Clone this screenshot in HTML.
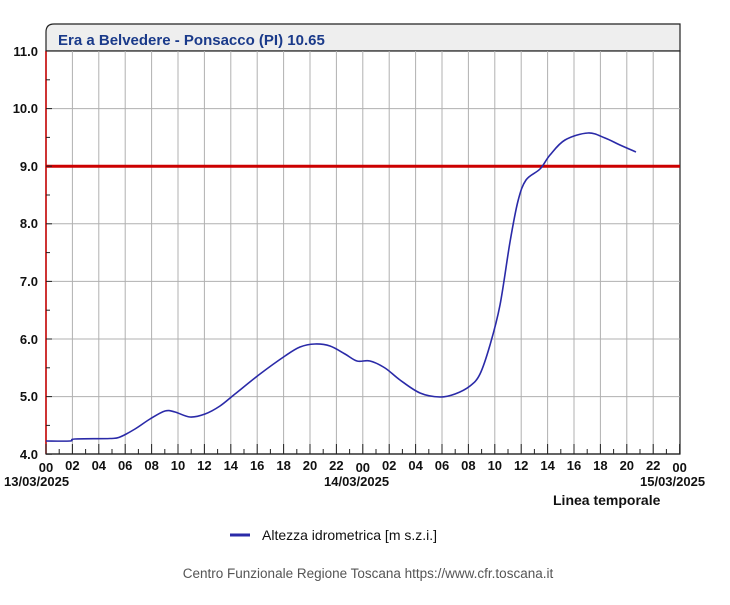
<!DOCTYPE html>
<html><head><meta charset="utf-8"><style>
body{margin:0;background:#fff;width:730px;height:600px;overflow:hidden}
svg text{font-family:"Liberation Sans",sans-serif}
</style></head><body>
<svg width="730" height="600" viewBox="0 0 730 600">
<path d="M46,51 V32 Q46,24 54,24 H680 V51 Z" fill="#eeeeee" stroke="#222" stroke-width="1.2"/>
<text x="58" y="45" font-size="15" font-weight="bold" fill="#1a3a8a">Era a Belvedere - Ponsacco (PI) 10.65</text>
<rect x="46" y="51" width="634" height="403" fill="#fff" stroke="#222" stroke-width="1.2"/>
<g stroke="#b0b0b0" stroke-width="1">
<line x1="46" x2="680" y1="108.6" y2="108.6"/><line x1="46" x2="680" y1="223.8" y2="223.8"/>
<line x1="46" x2="680" y1="281.4" y2="281.4"/><line x1="46" x2="680" y1="339" y2="339"/>
<line x1="46" x2="680" y1="396.6" y2="396.6"/>
</g>
<g id="v" stroke="#b0b0b0"></g>
<line x1="46" x2="680" y1="166.2" y2="166.2" stroke="#cc0000" stroke-width="3"/>
<line x1="46" x2="46" y1="51" y2="454" stroke="#cc0000" stroke-width="1.5"/>
<line x1="46" x2="680" y1="454" y2="454" stroke="#222" stroke-width="1.2"/>
<g id="t" stroke="#222" stroke-width="1"></g>
<g font-size="13" font-weight="bold" fill="#111" text-anchor="end">
<text x="38" y="56">11.0</text><text x="38" y="113">10.0</text><text x="38" y="171">9.0</text>
<text x="38" y="228">8.0</text><text x="38" y="286">7.0</text><text x="38" y="344">6.0</text>
<text x="38" y="401">5.0</text><text x="38" y="459">4.0</text>
</g>
<g id="xl" font-size="13" font-weight="bold" fill="#111" text-anchor="middle"></g>
<g font-size="13" font-weight="bold" fill="#111">
<text x="4" y="486">13/03/2025</text><text x="324" y="486">14/03/2025</text><text x="640" y="486">15/03/2025</text>
<text x="553" y="505" font-size="14">Linea temporale</text>
</g>
<path id="c" fill="none" stroke="#2a2aa8" stroke-width="1.6" stroke-linejoin="round" d=""/>
<line x1="230" x2="250" y1="535" y2="535" stroke="#2a2aa8" stroke-width="3"/>
<text x="262" y="540" font-size="14" fill="#111">Altezza idrometrica [m s.z.i.]</text>
<text x="368" y="578" font-size="13.5" fill="#555" text-anchor="middle">Centro Funzionale Regione Toscana https://www.cfr.toscana.it</text>
</svg>
<script>
var ns="http://www.w3.org/2000/svg",v=document.getElementById('v'),t=document.getElementById('t'),xl=document.getElementById('xl');
function L(g,a,b,c,d){var l=document.createElementNS(ns,'line');l.setAttribute('x1',a);l.setAttribute('x2',c);l.setAttribute('y1',b);l.setAttribute('y2',d);g.appendChild(l);}
for(var h=0;h<=48;h++){var x=46+h*13.2;
 if(h%2==0&&h>0&&h<48)L(v,x,51,x,454);
 L(t,x,454,x,h%2==0?444:449);
 if(h%2==0){var tx=document.createElementNS(ns,'text');tx.setAttribute('x',x);tx.setAttribute('y',(h%24==0)?472:470);var hh=h%24;tx.textContent=(hh<10?'0':'')+hh;xl.appendChild(tx);}
}
for(var k=0;k<=14;k++){var y=51+k*28.8;L(t,46,y,k%2==0?52:50,y);}
var p=[[46,441],[70,441],[75,439],[110,438.5],[120,437],[135,429],[150,419],[165,411],[175,412],[190,417],[205,414],[220,406],[235,394],[260,374],[285,356],[300,347],[315,344],[330,346],[345,354],[357,361],[370,361],[385,368],[400,380],[420,393],[440,397],[455,394],[470,386],[480,374],[490,345],[500,305],[510,242],[518,201],[526,180],[540,169],[550,155],[565,140],[588,133],[605,138],[620,145],[636,152]];
var d="M"+p[0][0]+","+p[0][1];
for(var i=0;i<p.length-1;i++){var a=p[Math.max(i-1,0)],b=p[i],c=p[i+1],e=p[Math.min(i+2,p.length-1)];
d+=" C"+(b[0]+(c[0]-a[0])/6)+","+(b[1]+(c[1]-a[1])/6)+" "+(c[0]-(e[0]-b[0])/6)+","+(c[1]-(e[1]-b[1])/6)+" "+c[0]+","+c[1];}
document.getElementById('c').setAttribute('d',d);
</script>
</body></html>
